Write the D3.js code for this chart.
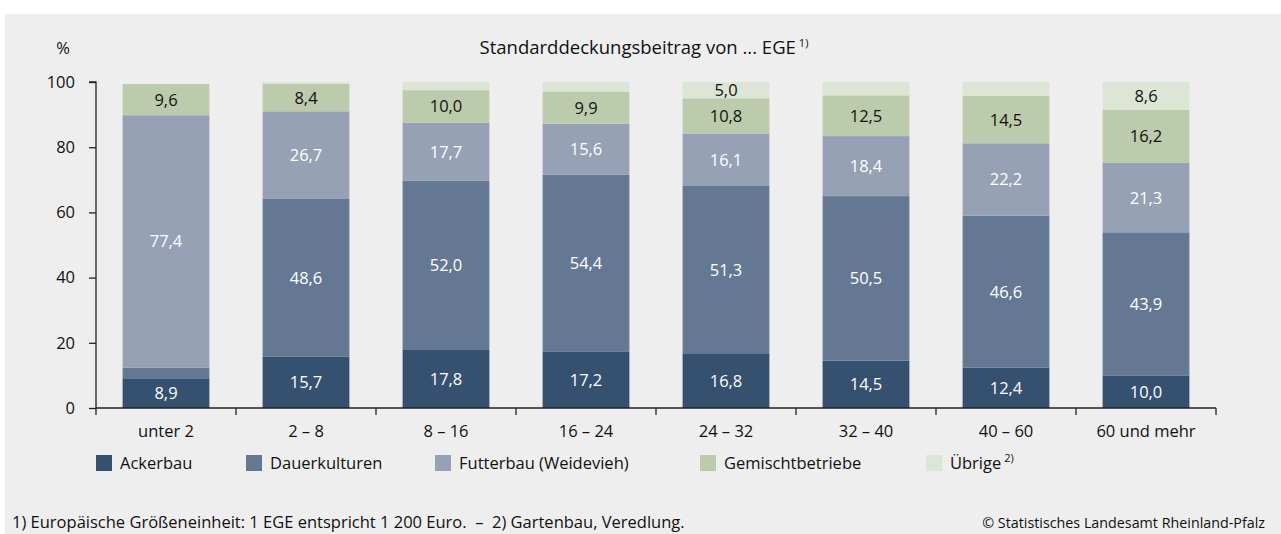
<!DOCTYPE html>
<html>
<head>
<meta charset="utf-8">
<script src="https://d3js.org/d3.v7.min.js"></script>
<style>
  body { margin: 0; background: #fff; }
  svg text { font-family: "Open Sans", sans-serif; }
</style>
</head>
<body>
<svg width="1281" height="534"></svg>
<script>
const categories = ["unter 2", "2 – 8", "8 – 16", "16 – 24", "24 – 32", "32 – 40", "40 – 60", "60 und mehr"];
const seriesNames = ["Ackerbau", "Dauerkulturen", "Futterbau (Weidevieh)", "Gemischtbetriebe", "Übrige"];
const ackerbau      = [8.9, 15.7, 17.8, 17.2, 16.8, 14.5, 12.4, 10.0];
const dauerkulturen = [3.5, 48.6, 52.0, 54.4, 51.3, 50.5, 46.6, 43.9];
const futterbau     = [77.4, 26.7, 17.7, 15.6, 16.1, 18.4, 22.2, 21.3];
const gemischt      = [9.6, 8.4, 10.0, 9.9, 10.8, 12.5, 14.5, 16.2];
const uebrige       = [0, 0.6, 2.5, 2.9, 5.0, 4.1, 4.3, 8.6];
// which values get a label (unlabeled small pieces are left out)
const showLabel = [
  [true, true, true, true, true, true, true, true],
  [false, true, true, true, true, true, true, true],
  [true, true, true, true, true, true, true, true],
  [true, true, true, true, true, true, true, true],
  [false, false, false, false, true, false, false, true]
];
const yTicks = [0, 20, 40, 60, 80, 100];

const colors = ["#36506f", "#657893", "#96a1b5", "#bccbab", "#dde5d5"];
const labelColors = ["#fff", "#fff", "#fff", "#111", "#111"];
const allSeries = [ackerbau, dauerkulturen, futterbau, gemischt, uebrige];
const fs = 16.5;

const svg = d3.select("svg");
svg.append("rect").attr("x", 5).attr("y", 14).attr("width", 1276).attr("height", 520).attr("fill", "#eeeeee");

const x = d3.scaleBand().domain(categories).range([96, 1216]).paddingInner(0.38).paddingOuter(0.19);
const y = d3.scaleLinear().domain([0, 100]).range([408, 82]);

const rows = categories.map((c, i) => {
  const r = { cat: c };
  seriesNames.forEach((s, k) => r[s] = allSeries[k][i]);
  return r;
});
const stacked = d3.stack().keys(seriesNames)(rows);

const g = svg.append("g");
stacked.forEach((layer, k) => {
  g.append("g").attr("fill", colors[k]).selectAll("rect").data(layer).join("rect")
    .attr("x", d => x(d.data.cat))
    .attr("width", x.bandwidth())
    .attr("y", d => y(d[1]))
    .attr("height", d => y(d[0]) - y(d[1]));
  g.append("g").selectAll("text").data(layer.filter((d, i) => showLabel[k][i])).join("text")
    .attr("x", d => x(d.data.cat) + x.bandwidth() / 2)
    .attr("y", d => (y(d[0]) + y(d[1])) / 2 + 6)
    .attr("text-anchor", "middle")
    .attr("font-size", fs)
    .attr("fill", labelColors[k])
    .text(d => d3.format(".1f")(d[1] - d[0]).replace(".", ","));
});

// y axis
const yAxis = svg.append("g").attr("transform", "translate(96,0)")
  .call(d3.axisLeft(y).tickValues(yTicks).tickSize(7).tickPadding(14));
yAxis.select(".domain").attr("d", "M-7," + y(100) + "H0V" + y(0)).attr("stroke", "#222").attr("stroke-width", 1.3);
yAxis.selectAll(".tick line").attr("stroke", "#222").attr("stroke-width", 1.3);
yAxis.selectAll(".tick text").attr("font-size", fs).attr("fill", "#111").attr("font-family", "Open Sans");

// x axis with boundary ticks
const xAxis = svg.append("g").attr("transform", "translate(0," + y(0) + ")");
xAxis.append("line").attr("x1", 96).attr("x2", 1216).attr("stroke", "#222").attr("stroke-width", 1.5);
const bounds = categories.map(c => x(c) - x.step() * x.paddingInner() / 2);
bounds.push(1216);
xAxis.selectAll(".tk").data(bounds).join("line")
  .attr("x1", d => d).attr("x2", d => d).attr("y1", 0).attr("y2", 7)
  .attr("stroke", "#222").attr("stroke-width", 1.3);
xAxis.selectAll(".lbl").data(categories).join("text")
  .attr("x", d => x(d) + x.bandwidth() / 2).attr("y", 29)
  .attr("text-anchor", "middle").attr("font-size", fs).attr("fill", "#111").text(d => d);

// titles
svg.append("text").attr("x", 63).attr("y", 54).attr("text-anchor", "middle").attr("font-size", fs).attr("fill", "#111").text("%");
const t = svg.append("text").attr("x", 644).attr("y", 54).attr("text-anchor", "middle").attr("font-size", 18.5).attr("fill", "#111");
t.append("tspan").text("Standarddeckungsbeitrag von ... EGE");
t.append("tspan").attr("dx", 3).attr("dy", -7).attr("font-size", 11).text("1)");

// legend
const legendX = [96, 246, 435, 700, 926];
const lg = svg.append("g").selectAll("g").data(seriesNames).join("g")
  .attr("transform", (d, i) => "translate(" + legendX[i] + ",455)");
lg.append("rect").attr("width", 16).attr("height", 16).attr("fill", (d, i) => colors[i]);
const lt = lg.append("text").attr("x", 24).attr("y", 14).attr("font-size", fs).attr("fill", "#111").text(d => d);
lt.filter((d, i) => i === 4).append("tspan").attr("dx", 3).attr("dy", -7).attr("font-size", 11).text("2)");

// footer
svg.append("text").attr("x", 12).attr("y", 528).attr("font-size", 16.5).attr("fill", "#111")
  .text("1) Europäische Größeneinheit: 1 EGE entspricht 1 200 Euro.\u00a0\u00a0–\u00a0\u00a02) Gartenbau, Veredlung.");
svg.append("text").attr("x", 1265).attr("y", 528).attr("text-anchor", "end").attr("font-size", 14.3).attr("fill", "#111")
  .text("© Statistisches Landesamt Rheinland-Pfalz");
</script>
</body>
</html>
